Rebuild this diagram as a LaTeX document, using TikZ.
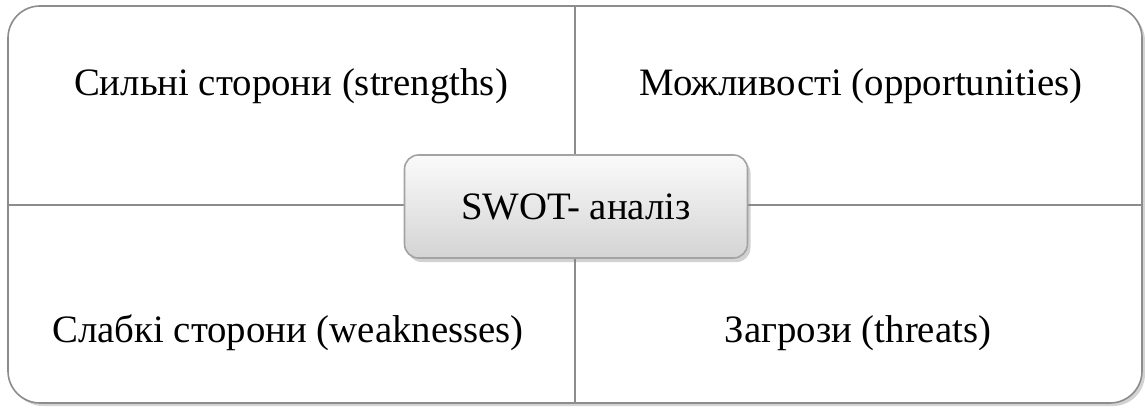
\documentclass[tikz,border=0pt]{standalone}
\usepackage{fontspec}
\setmainfont{Liberation Serif}
\usetikzlibrary{shadows}
\definecolor{framegray}{HTML}{8C8C8C}
\definecolor{boxtop}{HTML}{FAFAFA}
\definecolor{boxbottom}{HTML}{D4D4D4}
\tikzset{
	swotframe/.style={draw=framegray,line width=0.8pt,fill=white,rounded corners=16pt,
		drop shadow={shadow xshift=1.5pt,shadow yshift=-1.5pt,opacity=0.35}},
	divider/.style={draw=framegray,line width=0.8pt},
	quadtext/.style={font=\fontsize{19.4}{23}\selectfont,anchor=base},
	centerbox/.style={draw=framegray!80,line width=0.8pt,rounded corners=7pt,
		top color=boxtop,bottom color=boxbottom,minimum width=171.5pt,minimum height=51.5pt,
		font=\fontsize{19.4}{23}\selectfont,
		drop shadow={shadow xshift=1.5pt,shadow yshift=-2pt,opacity=0.35}}
}
\begin{document}
\begin{tikzpicture}[x=0.5pt,y=-0.5pt]
	\useasboundingbox (0,0) rectangle (1145,407);
	\def\xl{8}
	\def\xr{1142}
	\def\yt{6}
	\def\yb{403}
	\def\xm{575}
	\def\ym{205}
	% outer frame and dividers
	\path[swotframe] (\xl,\yt) rectangle (\xr,\yb);
	\coordinate (top) at (\xm,\yt);
	\coordinate (bottom) at (\xm,\yb);
	\coordinate (left) at (\xl,\ym);
	\coordinate (right) at (\xr,\ym);
	\draw[divider] (top) -- (bottom);
	\draw[divider] (left) -- (right);
	% quadrant labels
	\node[quadtext] (strengths) at (291,95) {Сильні сторони (strengths)};
	\node[quadtext] (opportunities) at (861,95) {Можливості (opportunities)};
	\node[quadtext] (weaknesses) at (288,342) {Слабкі сторони (weaknesses)};
	\node[quadtext] (threats) at (858,342) {Загрози (threats)};
	% centre
	\node[centerbox] (swot) at (576,206.5) {SWOT- аналіз};
\end{tikzpicture}
\end{document}
